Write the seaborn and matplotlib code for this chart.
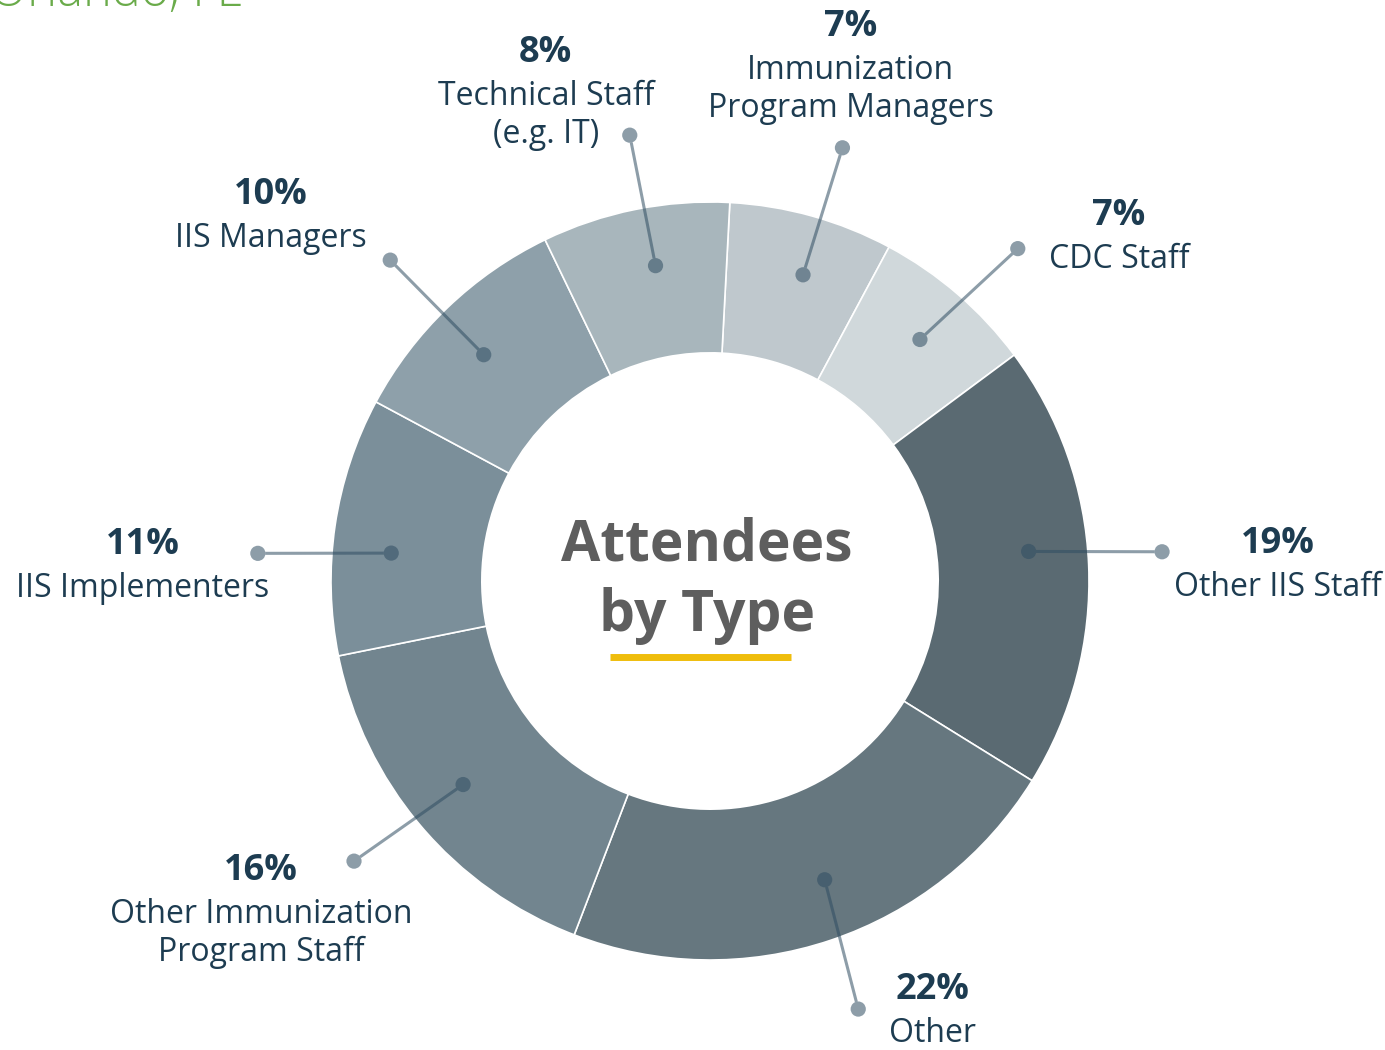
import numpy as np
import matplotlib.pyplot as plt
import seaborn as sns

# attendee share by type, clockwise from the top of the ring
categories = ['Immunization\nProgram Managers', 'CDC Staff', 'Other IIS Staff', 'Other',
              'Other Immunization\nProgram Staff', 'IIS Implementers', 'IIS Managers',
              'Technical Staff\n(e.g. IT)']
shares = [7, 7, 19, 22, 16, 11, 10, 8]
pct_labels = [f'{v}%' for v in shares]

colors = ['#bfc8cd', '#d0d8db', '#5a6a72', '#66777f', '#72858f', '#7b8f9a', '#8ea0aa', '#a8b6bc']
navy = '#1d3c51'
lead = '#2f4d62'

sns.set_style('white')
plt.rcParams['font.family'] = ['Open Sans', 'DejaVu Sans']

S = 379.0  # px per data unit (outer radius)
cx, cy = 710, 581


def P(x, y):
    # pixel position (y down) -> data coords
    return (x - cx) / S, (cy - y) / S


fig = plt.figure(figsize=(13.85, 10.5), dpi=100)
ax = fig.add_axes([0, 0, 1, 1])
wedges, _ = ax.pie(shares, radius=1, startangle=87, counterclock=False, colors=colors,
                   wedgeprops=dict(width=0.398, edgecolor='white', linewidth=1.2))
ax.set_xlim(-cx / S, (1385 - cx) / S)
ax.set_ylim(-(1050 - cy) / S, cy / S)
ax.set_aspect('equal')
ax.axis('off')

# leader lines: dot inside the wedge, dot outside, label next to it
inner_nudge = [1.3, 0.2, -2.9, -2.4, 0.7, -3.4, -1.2, 1.6]
outer_nudge = [1.4, 2.0, -1.3, -0.5, 2.0, -4.9, -1.1, 1.2]
text_off = [(8, -121), (101, -33), (116, -8), (74, -19), (-93, 10), (-115, -8), (-119, -65), (-84, -82)]
r_in, r_out = 320 / S, 453 / S
dot_r = 7.5 / S

xs, ys = [], []
for i, w in enumerate(wedges):
    mid = (w.theta1 + w.theta2) / 2
    a1 = np.deg2rad(mid - inner_nudge[i])
    a2 = np.deg2rad(mid - outer_nudge[i])
    p1 = np.array([r_in * np.cos(a1), r_in * np.sin(a1)])
    p2 = np.array([r_out * np.cos(a2), r_out * np.sin(a2)])
    u = (p2 - p1) / np.linalg.norm(p2 - p1)
    q1, q2 = p1 + u * dot_r, p2 - u * dot_r
    ax.plot([q1[0], q2[0]], [q1[1], q2[1]], color=lead, alpha=0.55, lw=2.2,
            solid_capstyle='butt')
    xs += [p1[0], p2[0]]
    ys += [p1[1], p2[1]]

    dx, dy = text_off[i]
    tx, ty = p2[0] + dx / S, p2[1] - dy / S
    ax.text(tx, ty, pct_labels[i], ha='center', va='center', fontsize=26,
            fontweight='bold', color=navy)
    ax.text(tx, ty - 27 / S, categories[i], ha='center', va='top', fontsize=23,
            color=navy, linespacing=1.2)

sns.scatterplot(x=xs, y=ys, s=120, color=lead, alpha=0.55, edgecolor='none',
                legend=False, ax=ax)

# centre title with yellow underline
ax.text(*P(707, 581), 'Attendees\nby Type', ha='center', va='center', fontsize=41,
        fontweight='bold', color='#5e5e5e', linespacing=1.28)
x0, y0 = P(610, 657)
x1, _ = P(791, 657)
ax.plot([x0, x1], [y0, y0], color='#efbd0c', lw=5, solid_capstyle='butt')

# cut-off subtitle at the top edge
ax.text(*P(-10, 6), 'Orlando, FL', ha='left', va='baseline', fontsize=35,
        fontweight='light', color='#6aab4a')

fig.savefig('out.png', dpi=100)
